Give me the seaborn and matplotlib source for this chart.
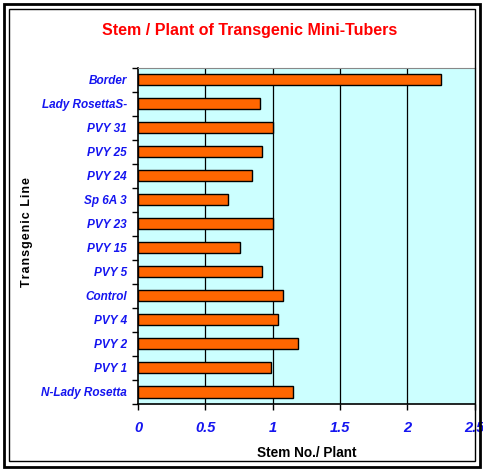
import matplotlib
matplotlib.use("Agg")
import matplotlib.pyplot as plt
import seaborn as sns
import pandas as pd
from matplotlib.patches import Rectangle
from matplotlib.ticker import FixedLocator

lines = ["Border", "Lady RosettaS-", "PVY 31", "PVY 25", "PVY 24", "Sp 6A 3",
         "PVY 23", "PVY 15", "PVY 5", "Control", "PVY 4", "PVY 2", "PVY 1",
         "N-Lady Rosetta"]
stems = [2.25, 0.91, 1.0, 0.92, 0.85, 0.67, 1.0, 0.76, 0.92, 1.08, 1.04, 1.19,
         0.99, 1.155]
xticks = [0, 0.5, 1, 1.5, 2, 2.5]
xticklabels = ["0", "0.5", "1", "1.5", "2", "2.5"]

sns.set_style("white")
plt.rcParams['font.family'] = ['Liberation Sans', 'DejaVu Sans']

df = pd.DataFrame({"line": lines, "stems": stems})

W, H = 483, 470
fig = plt.figure(figsize=(W / 100, H / 100), dpi=100)
ax = fig.add_axes([138 / W, 1 - 404 / H, (474.5 - 138) / W, (404 - 67.5) / H])
ax.set_facecolor("#CCFFFF")

sns.barplot(data=df, x="stems", y="line", order=lines, orient="h",
            color="#FF6600", edgecolor="black", linewidth=1.0, width=0.46,
            saturation=1, ax=ax)

ax.set_xlim(0, 2.5)
ax.set_ylim(len(lines) - 0.5, -0.5)
ax.set_xticks(xticks)
ax.set_xticklabels(xticklabels)
for xv in xticks[1:-1]:
    ax.axvline(xv, color="black", lw=0.9, zorder=0.5)

ax.yaxis.set_minor_locator(FixedLocator([i - 0.5 for i in range(len(lines) + 1)]))
ax.tick_params(axis="y", which="major", length=0, pad=8)
ax.tick_params(axis="y", which="minor", length=4, width=1, color="black", direction="out", left=True)
ax.tick_params(axis="x", which="major", length=4, width=1, color="black", direction="out", bottom=True, pad=8)

for lab in ax.get_yticklabels():
    lab.set_fontsize(8.5)
    lab.set_fontstyle("italic")
    lab.set_fontweight("bold")
    lab.set_color("#1515F0")
for lab in ax.get_xticklabels():
    lab.set_fontsize(10.5)
    lab.set_fontstyle("italic")
    lab.set_fontweight("bold")
    lab.set_color("#1515F0")

for side in ["top", "right"]:
    ax.spines[side].set_visible(True)
    ax.spines[side].set_color("#888888")
    ax.spines[side].set_linewidth(0.8)
for side in ["left", "bottom"]:
    ax.spines[side].set_color("black")
    ax.spines[side].set_linewidth(1.2)

ax.set_xlabel("")
ax.set_ylabel("")

fig.text(250 / W, 1 - 31 / H, "Stem / Plant of Transgenic Mini-Tubers",
         ha="center", va="center", color="#FF0000", fontsize=11.5, fontweight="bold")
fig.text(307 / W, 1 - 453 / H, "Stem No./ Plant", ha="center", va="center",
         fontsize=9.8, fontweight="bold", color="black")
ylab = "\u200a".join("Transgenic") + "\u200a \u200a" + "\u200a".join("Line")
fig.text(27 / W, 1 - 232 / H, ylab, ha="center", va="center",
         rotation=90, fontsize=9, fontweight="bold", color="black")

fig.patches.append(Rectangle((3.5 / W, 3.5 / H), (W - 7) / W, (H - 7) / H,
                             transform=fig.transFigure, fill=False,
                             edgecolor="black", linewidth=2.0))
fig.patches.append(Rectangle((8.5 / W, 9 / H), (W - 17) / W, (H - 18) / H,
                             transform=fig.transFigure, fill=False,
                             edgecolor="black", linewidth=1.0))

fig.savefig("out.png", dpi=100, facecolor="white")
